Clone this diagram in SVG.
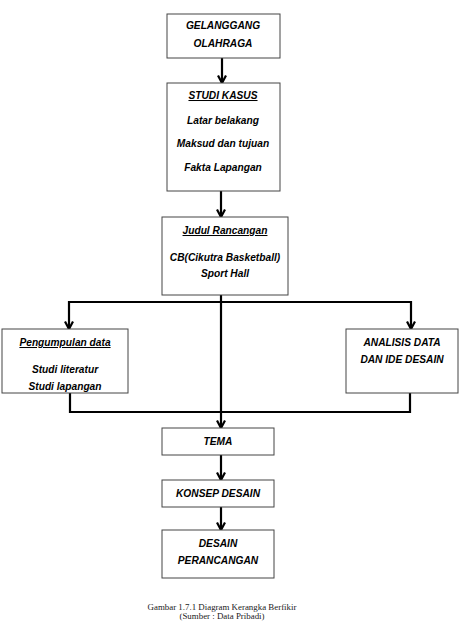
<svg xmlns="http://www.w3.org/2000/svg" width="459" height="628" viewBox="0 0 459 628">
<style>
.box{fill:#fff;stroke:#444;stroke-width:1}
.t{font-family:"Liberation Sans",Arial,sans-serif;font-weight:bold;font-style:italic;font-size:10.2px;fill:#000;text-anchor:middle}
.u{text-decoration:underline}
.c{fill:none;stroke:#000;stroke-width:2.2}
.cap{font-family:"Liberation Serif","Times New Roman",serif;font-size:8.9px;fill:#222;text-anchor:middle}
</style>
<defs>
<marker id="arr" viewBox="0 0 10 10" refX="9" refY="5" markerWidth="10" markerHeight="10" orient="auto" markerUnits="userSpaceOnUse">
<path d="M1.5,1 L9,5 L1.5,9" fill="none" stroke="#000" stroke-width="2.2"/>
</marker>
</defs>
<rect width="459" height="628" fill="#fff"/>
<g id="connectors">
<line class="c" x1="222" y1="58" x2="222" y2="83" marker-end="url(#arr)"/>
<line class="c" x1="221" y1="191" x2="221" y2="217" marker-end="url(#arr)"/>
<line class="c" x1="221" y1="295" x2="221" y2="428" marker-end="url(#arr)"/>
<polyline class="c" points="69,302 411,302 411,329" marker-end="url(#arr)"/>
<line class="c" x1="69" y1="301" x2="69" y2="329" marker-end="url(#arr)"/>
<polyline class="c" points="70,393 70,412 410,412 410,393"/>
<line class="c" x1="221" y1="455" x2="221" y2="480" marker-end="url(#arr)"/>
<line class="c" x1="221" y1="507" x2="221" y2="530" marker-end="url(#arr)"/>
</g>
<g id="n1"><rect class="box" x="167" y="14" width="113" height="44"/>
<text class="t" x="223" y="29">GELANGGANG</text><text class="t" x="223" y="47">OLAHRAGA</text></g>
<g id="n2"><rect class="box" x="167" y="83" width="113" height="108"/>
<text class="t u" x="223" y="99">STUDI KASUS</text>
<text class="t" x="223" y="124">Latar belakang</text>
<text class="t" x="223" y="147">Maksud dan tujuan</text>
<text class="t" x="223" y="171">Fakta Lapangan</text></g>
<g id="n3"><rect class="box" x="162" y="217" width="126" height="78"/>
<text class="t u" x="225" y="234">Judul Rancangan</text>
<text class="t" x="225" y="261">CB(Cikutra Basketball)</text>
<text class="t" x="225" y="277">Sport Hall</text></g>
<g id="n4"><rect class="box" x="2" y="329" width="126" height="64"/>
<text class="t u" x="65" y="346">Pengumpulan data</text>
<text class="t" x="65" y="373">Studi literatur</text>
<text class="t" x="65" y="390">Studi lapangan</text></g>
<g id="n5"><rect class="box" x="346" y="329" width="112" height="64"/>
<text class="t" x="402" y="346">ANALISIS DATA</text>
<text class="t" x="402" y="363">DAN IDE DESAIN</text></g>
<g id="n6"><rect class="box" x="162" y="428" width="112" height="27"/>
<text class="t" x="218" y="445">TEMA</text></g>
<g id="n7"><rect class="box" x="162" y="480" width="112" height="27"/>
<text class="t" x="218" y="497">KONSEP DESAIN</text></g>
<g id="n8"><rect class="box" x="162" y="530" width="112" height="48"/>
<text class="t" x="218" y="547">DESAIN</text>
<text class="t" x="218" y="564">PERANCANGAN</text></g>
<g id="caption">
<text class="cap" x="222" y="610">Gambar 1.7.1 Diagram Kerangka Berfikir</text>
<text class="cap" x="222" y="619">(Sumber : Data Pribadi)</text>
</g>
</svg>
